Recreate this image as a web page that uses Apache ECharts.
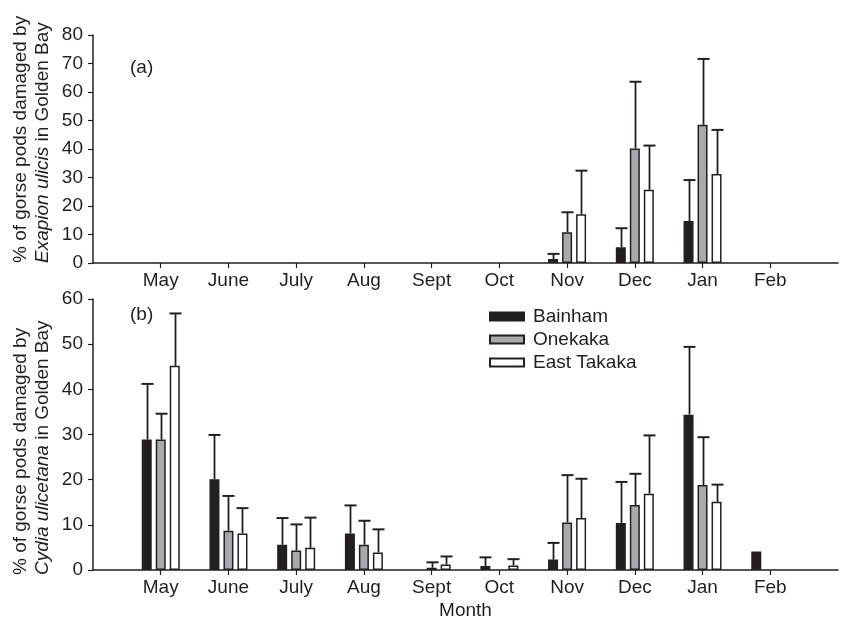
<!DOCTYPE html>
<html>
<head>
<meta charset="utf-8">
<script src="https://cdn.jsdelivr.net/npm/echarts@6/dist/echarts.min.js"></script>
<style>html,body{margin:0;padding:0;background:#fff}#c{width:841px;height:621px}</style>
</head>
<body>
<div id="c"></div>
<script>
// ---- data ----
var months = ['May', 'June', 'July', 'Aug', 'Sept', 'Oct', 'Nov', 'Dec', 'Jan', 'Feb'];
var sites = ['Bainham', 'Onekaka', 'East Takaka'];

// (a) Exapion ulicis  (null = no damage recorded / no bar)
var aBainham     = [null, null, null, null, null, null, 1.4, 5.5, 14.7, null];
var aBainhamErr  = [null, null, null, null, null, null, 3.2, 12.2, 29.1, null];
var aOnekaka     = [null, null, null, null, null, null, 10.8, 40.2, 48.5, null];
var aOnekakaErr  = [null, null, null, null, null, null, 17.8, 63.6, 71.6, null];
var aEast        = [null, null, null, null, null, null, 17.1, 25.7, 31.2, null];
var aEastErr     = [null, null, null, null, null, null, 32.4, 41.2, 46.7, null];

// (b) Cydia ulicetana
var bBainham     = [28.9, 20.1, 5.6, 8.1, null, 0.9, 2.3, 10.4, 34.4, 4.1];
var bBainhamErr  = [41.2, 29.9, 11.5, 14.3, null, 2.8, 6.0, 19.5, 49.4, null];
var bOnekaka     = [28.9, 8.7, 4.3, 5.6, 0.5, null, 10.5, 14.4, 18.8, null];
var bOnekakaErr  = [34.6, 16.4, 10.1, 10.9, 1.7, null, 21.0, 21.3, 29.4, null];
var bEast        = [45.2, 8.1, 4.9, 3.9, 1.2, 1.0, 11.5, 16.9, 15.1, null];
var bEastErr     = [56.8, 13.7, 11.6, 9.0, 3.0, 2.4, 20.2, 29.8, 18.9, null];

// ---- build ----
var INK = '#231f20';
var FONT = 'Liberation Sans';
var colors = ['#231f20', '#a7a9ac', '#ffffff'];
var cats = [''].concat(months).concat(['']);
function pad(a) { return [null].concat(a).concat([null]); }

function errData(vals, errs) {
  var out = [];
  for (var i = 0; i < vals.length; i++) {
    if (errs[i] != null) out.push([i + 1, errs[i], vals[i] == null ? 0 : vals[i]]);
  }
  return out;
}
function makeErr(offset) {
  return function (params, api) {
    var x = api.value(0);
    var top = api.value(1);
    var base = api.value(2);
    var p1 = api.coord([x, base]);
    var p2 = api.coord([x, top]);
    var cx = Math.round(p1[0] + offset) + 0.5;
    return {
      type: 'group',
      children: [
        { type: 'line', shape: { x1: cx, y1: p1[1], x2: cx, y2: p2[1] }, style: { stroke: INK, lineWidth: 1.8 } },
        { type: 'line', shape: { x1: cx - 6, y1: p2[1], x2: cx + 6, y2: p2[1] }, style: { stroke: INK, lineWidth: 2 } }
      ]
    };
  };
}

var offsets = [-14, 0, 14];
var panels = [
  { vals: [aBainham, aOnekaka, aEast], errs: [aBainhamErr, aOnekakaErr, aEastErr] },
  { vals: [bBainham, bOnekaka, bEast], errs: [bBainhamErr, bOnekakaErr, bEastErr] }
];
var series = [];
panels.forEach(function (p, gi) {
  for (var s = 0; s < 3; s++) {
    series.push({
      type: 'bar', name: sites[s], xAxisIndex: gi, yAxisIndex: gi,
      data: pad(p.vals[s]), barWidth: 10, barGap: '40%',
      itemStyle: { color: colors[s], borderColor: INK, borderWidth: 1.5 },
      silent: true, z: 3
    });
  }
  for (var s2 = 0; s2 < 3; s2++) {
    series.push({
      type: 'custom', name: 'err' + gi + s2, xAxisIndex: gi, yAxisIndex: gi,
      data: errData(p.vals[s2], p.errs[s2]),
      encode: { x: 0, y: 1 },
      renderItem: makeErr(offsets[s2]), silent: true, z: 2
    });
  }
});

function xAxisCfg(gi, extra) {
  var o = {
    type: 'category', gridIndex: gi, data: cats, boundaryGap: false,
    axisLine: { lineStyle: { color: INK, width: 1.5 } },
    axisTick: { length: 5, lineStyle: { color: INK, width: 1.2 }, interval: function (i) { return i > 0 && i < cats.length - 1; } },
    axisLabel: { interval: 0, margin: 8, color: INK, fontSize: 19, fontFamily: FONT },
    splitLine: { show: false }
  };
  for (var k in extra) o[k] = extra[k];
  return o;
}
function yAxisCfg(gi, max) {
  return {
    type: 'value', gridIndex: gi, min: 0, max: max, interval: 10,
    axisLine: { show: true, lineStyle: { color: INK, width: 1.5 } },
    axisTick: { show: true, length: 5, lineStyle: { color: INK, width: 1.2 } },
    axisLabel: { margin: 10, color: INK, fontSize: 19, fontFamily: FONT },
    splitLine: { show: false }
  };
}

var chart = echarts.init(document.getElementById('c'), null, { renderer: 'canvas' });
chart.setOption({
  backgroundColor: '#ffffff',
  animation: false,
  textStyle: { fontFamily: FONT, color: INK },
  grid: [
    { left: 93, right: 1, top: 35, height: 228 },
    { left: 93, right: 1, top: 299, height: 272 }
  ],
  xAxis: [
    xAxisCfg(0, {}),
    xAxisCfg(1, { name: 'Month', nameLocation: 'middle', nameGap: 31, nameTextStyle: { color: INK, fontSize: 19, fontFamily: FONT } })
  ],
  yAxis: [yAxisCfg(0, 80), yAxisCfg(1, 60)],
  legend: {
    data: sites, orient: 'vertical', left: 489, top: 307, padding: 0,
    itemWidth: 34, itemHeight: 8, itemGap: 4, icon: 'rect',
    textStyle: { fontSize: 19, fontFamily: FONT, color: INK, padding: [0, 0, 0, 4] },
    selectedMode: false
  },
  graphic: [
    { type: 'text', left: 130, top: 58, style: { text: '(a)', fontSize: 19, fontFamily: FONT, fill: INK } },
    { type: 'text', left: 130, top: 305, style: { text: '(b)', fontSize: 19, fontFamily: FONT, fill: INK } },
    { type: 'text', x: 32, y: 263, rotation: Math.PI / 2,
      style: { text: '% of gorse pods damaged by\n{i|Exapion ulicis} in Golden Bay', fontSize: 19, fontFamily: FONT, fill: INK,
        align: 'left', verticalAlign: 'middle', lineHeight: 22,
        rich: { i: { fontStyle: 'italic', fontSize: 19, fontFamily: FONT, fill: INK, lineHeight: 22 } } } },
    { type: 'text', x: 32, y: 575, rotation: Math.PI / 2,
      style: { text: '% of gorse pods damaged by\n{i|Cydia ulicetana} in Golden Bay', fontSize: 19, fontFamily: FONT, fill: INK,
        align: 'left', verticalAlign: 'middle', lineHeight: 22,
        rich: { i: { fontStyle: 'italic', fontSize: 19, fontFamily: FONT, fill: INK, lineHeight: 22 } } } }
  ],
  series: series
});
</script>
</body>
</html>
